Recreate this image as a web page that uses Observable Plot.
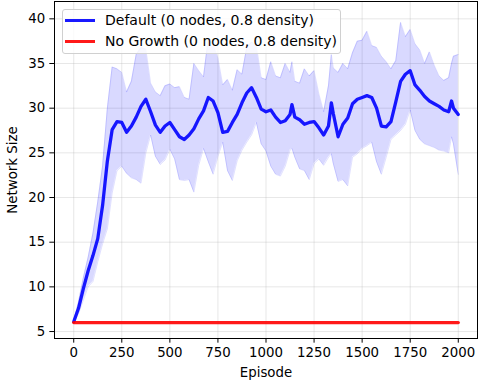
<!DOCTYPE html>
<html><head><meta charset="utf-8">
<script src="https://cdn.jsdelivr.net/npm/d3@7"></script>
<script src="https://cdn.jsdelivr.net/npm/@observablehq/plot@0.6"></script>
<style>
body{margin:0;background:#fff;}
#chart{position:relative;width:478px;height:383px;font-family:"DejaVu Sans",sans-serif;}
.legend{position:absolute;left:62px;top:9px;width:277px;height:43px;border:1px solid #d0d0d0;border-radius:3px;background:rgba(255,255,255,0.8);font-size:14px;color:#000;}
.swatch{position:absolute;left:2px;width:30px;height:3px;}
.label{position:absolute;left:42px;white-space:nowrap;line-height:16px;}
</style></head>
<body><div id="chart"></div>
<script>
const episodes = [0,25,50,75,100,125,150,175,200,225,250,275,300,325,350,375,400,425,450,475,500,525,550,575,600,625,650,675,700,725,750,775,800,825,850,875,900,925,950,975,1000,1025,1050,1075,1100,1125,1135,1150,1175,1200,1225,1250,1275,1300,1325,1340,1350,1375,1400,1425,1450,1475,1500,1525,1550,1575,1600,1625,1650,1675,1700,1725,1750,1775,1800,1825,1850,1875,1900,1925,1950,1965,1975,2000];
const defaultMean = [6.1,7.6,9.8,11.8,13.5,15.4,19.1,24.1,27.6,28.5,28.4,27.3,28.0,29.0,30.2,31.0,29.6,28.1,27.3,28.0,28.4,27.6,26.8,26.5,27.0,27.7,28.8,29.7,31.2,30.8,29.5,27.3,27.4,28.4,29.3,30.6,31.7,32.3,31.2,29.9,29.6,29.8,29.0,28.4,28.6,29.3,30.4,29.0,28.7,28.2,28.4,28.5,27.8,27.0,28.0,30.6,29.4,26.8,28.2,28.9,30.5,31.0,31.2,31.4,31.2,30.0,28.0,27.9,28.5,30.7,33.0,33.8,34.2,32.6,32.0,31.3,30.8,30.5,30.2,29.8,29.6,30.8,30.0,29.3];
const defaultLower = [6.0,7.0,8.5,10.0,10.6,12.8,14.8,16.5,20.5,23.0,23.5,22.7,22.2,22.0,21.6,25.0,27.0,24.6,23.7,24.2,25.4,24.3,22.0,21.9,22.0,20.6,23.6,25.5,24.0,22.6,24.6,26.2,23.0,21.9,24.1,25.3,26.2,27.0,28.4,26.0,25.2,23.5,22.6,22.4,23.5,25.3,25.5,24.5,23.2,23.0,22.0,23.8,24.3,23.6,24.5,24.9,23.8,21.8,22.0,21.3,24.5,24.9,25.5,25.8,26.2,24.0,22.6,24.5,26.5,27.0,27.5,28.2,29.8,27.5,26.5,26.0,25.8,25.6,25.3,25.2,25.0,26.8,26.0,22.6];
const defaultUpper = [6.2,8.3,11.0,13.3,16.0,19.5,23.5,30.0,34.6,34.4,34.0,31.8,33.0,36.0,36.8,36.6,32.8,31.8,31.4,32.5,32.7,32.3,32.4,31.2,31.0,35.0,34.2,33.5,37.8,37.2,35.6,32.6,33.2,32.0,34.3,33.8,36.8,37.4,37.0,33.4,33.2,35.2,33.6,33.4,35.0,34.0,35.2,33.0,32.8,34.4,33.6,34.2,31.6,29.6,32.5,36.0,34.5,34.0,35.0,34.4,36.2,37.5,37.6,38.6,37.0,36.8,35.8,35.2,34.4,35.3,39.6,38.0,38.8,37.2,36.5,35.0,36.3,34.8,33.6,33.1,33.4,35.0,35.8,36.0];
const noGrowthEpisodes = [0, 2000];
const noGrowthValues = [6, 6];
const xTicks = [0,250,500,750,1000,1250,1500,1750,2000];
const yTicks = [5,10,15,20,25,30,35,40];
const seriesNames = ["Default (0 nodes, 0.8 density)", "No Growth (0 nodes, 0.8 density)"];
const seriesColors = ["rgba(0,0,255,0.9)", "rgba(255,0,0,0.9)"];

const data = episodes.map((e,i)=>({ep:e, mean:defaultMean[i], lo:defaultLower[i], hi:defaultUpper[i]}));
const flat = noGrowthEpisodes.map((e,i)=>({ep:e, v:noGrowthValues[i]}));

const chart = Plot.plot({
  width:478, height:383, marginLeft:54, marginRight:1, marginTop:1, marginBottom:45,
  style:{fontFamily:"DejaVu Sans", fontSize:"13.33px", color:"#000", background:"#fff"},
  x:{domain:[-100,2100]},
  y:{domain:[4.22,41.94]},
  marks:[
    Plot.gridX(xTicks, {stroke:"#b0b0b0", strokeOpacity:0.3, strokeWidth:1}),
    Plot.gridY(yTicks, {stroke:"#b0b0b0", strokeOpacity:0.3, strokeWidth:1}),
    Plot.areaY(data, {x:"ep", y1:"lo", y2:"hi", fill:"blue", fillOpacity:0.15}),
    Plot.lineY(data, {x:"ep", y:"lo", stroke:"blue", strokeOpacity:0.12, strokeWidth:1}),
    Plot.lineY(data, {x:"ep", y:"hi", stroke:"blue", strokeOpacity:0.12, strokeWidth:1}),
    Plot.lineY(data, {x:"ep", y:"mean", stroke:seriesColors[0], strokeWidth:3.3}),
    Plot.lineY(flat, {x:"ep", y:"v", stroke:seriesColors[1], strokeWidth:3.3}),
    Plot.axisX(xTicks, {tickSize:4.67, tickPadding:4.67, fontSize:13.33, tickFormat:d3.format("d"), label:"Episode", labelAnchor:"center", labelArrow:"none", labelOffset:38}),
    Plot.axisY(yTicks, {tickSize:4.67, tickPadding:4.67, fontSize:13.33, tickFormat:d3.format("d"), label:"Network Size", labelAnchor:"center", labelArrow:"none", labelOffset:47}),
    Plot.frame({stroke:"#000", strokeWidth:1})
  ]
});
const root = document.getElementById("chart");
root.appendChild(chart);
const legend = document.createElement("div");
legend.className = "legend";
seriesNames.forEach((name,i)=>{
  const cy = 10 + i*21;
  const sw = document.createElement("div");
  sw.className = "swatch";
  sw.style.top = (cy-1.5)+"px";
  sw.style.background = seriesColors[i];
  const lb = document.createElement("div");
  lb.className = "label";
  lb.style.top = (cy-8)+"px";
  lb.textContent = name;
  legend.appendChild(sw); legend.appendChild(lb);
});
root.appendChild(legend);
</script></body></html>
